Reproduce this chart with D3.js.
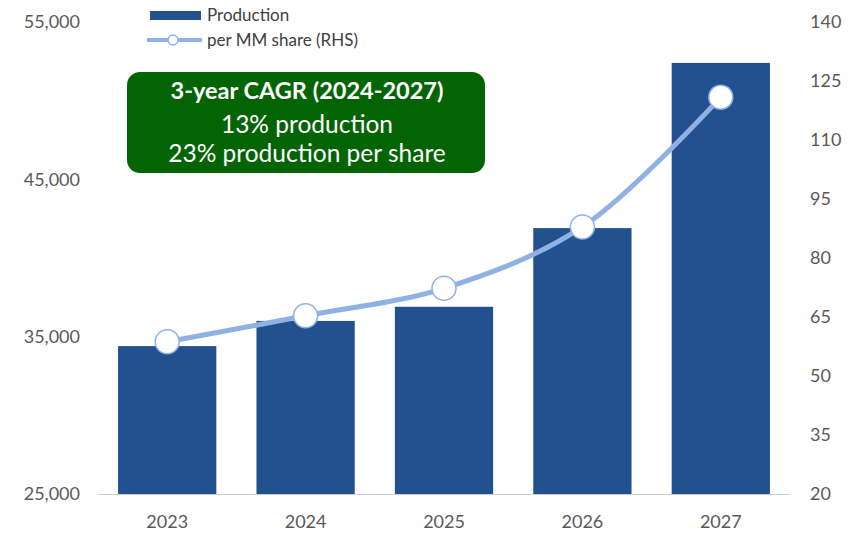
<!DOCTYPE html>
<html><head><meta charset="utf-8">
<script src="https://cdn.jsdelivr.net/npm/d3@7"></script>
<style>body{margin:0;background:#fff}svg{display:block}text{font-family:Lato,"Open Sans",sans-serif}</style>
</head><body><svg id="c" width="858" height="535"></svg>
<script>
const years = ["2023","2024","2025","2026","2027"];
const production = [34400, 36000, 36900, 41900, 52400];
const perShare = [58.7, 65.3, 72.3, 87.9, 120.9];
const leftTicks = [25000, 35000, 45000, 55000];
const rightTicks = [20, 35, 50, 65, 80, 95, 110, 125, 140];
const legendLabels = ["Production", "per MM share (RHS)"];
const boxLines = ["3-year CAGR (2024-2027)", "13% production", "23% production per share"];

const svg = d3.select("#c");
const m = {l:98, r:790, t:22, b:494};
const x = d3.scaleBand().domain(years).range([m.l, m.r]).paddingInner(0.29).paddingOuter(0.145);
const yL = d3.scaleLinear().domain([25000, 55000]).range([m.b, m.t]);
const yR = d3.scaleLinear().domain([20, 140]).range([m.b, m.t]);
const barColor = "#23518f", lineColor = "#8fb1e4", txt = "#595959";

svg.append("g").selectAll("rect").data(production).join("rect")
  .attr("x", (d,i)=>x(years[i])).attr("width", x.bandwidth())
  .attr("y", d=>yL(d)).attr("height", d=>m.b - yL(d)).attr("fill", barColor);

svg.append("line").attr("x1", m.l).attr("x2", m.r).attr("y1", m.b+0.5).attr("y2", m.b+0.5)
  .attr("stroke", "#d0d0d0").attr("stroke-width", 1.2);

const gl = svg.append("g").attr("transform", `translate(80,0)`)
  .call(d3.axisLeft(yL).tickValues(leftTicks).tickFormat(d3.format(",")).tickSize(0).tickPadding(0));
const gr = svg.append("g").attr("transform", `translate(810,0)`)
  .call(d3.axisRight(yR).tickValues(rightTicks).tickSize(0).tickPadding(0));
const gx = svg.append("g").attr("transform", `translate(0,${m.b})`)
  .call(d3.axisBottom(x).tickSize(0).tickPadding(21));
[gl, gr, gx].forEach(g => {
  g.select(".domain").remove();
  g.selectAll("text").attr("fill", txt).style("font-size", "18px").style("font-family", "Lato, 'Open Sans', sans-serif");
});

const pts = perShare.map((v,i)=>[x(years[i]) + x.bandwidth()/2, yR(v)]);
svg.append("path").attr("d", d3.line().curve(d3.curveCatmullRom.alpha(0.5))(pts))
  .attr("fill", "none").attr("stroke", lineColor).attr("stroke-width", 5);
svg.append("g").selectAll("circle").data(pts).join("circle")
  .attr("cx", d=>d[0]).attr("cy", d=>d[1]).attr("r", 12)
  .attr("fill", "#fff").attr("stroke", lineColor).attr("stroke-width", 1.5);

// legend
svg.append("rect").attr("x", 150).attr("y", 11).attr("width", 51).attr("height", 9).attr("fill", barColor);
svg.append("line").attr("x1", 147).attr("x2", 202).attr("y1", 40).attr("y2", 40).attr("stroke", lineColor).attr("stroke-width", 4);
svg.append("circle").attr("cx", 173).attr("cy", 40).attr("r", 5).attr("fill", "#fff").attr("stroke", lineColor).attr("stroke-width", 1.5);
svg.append("g").selectAll("text").data(legendLabels).join("text")
  .attr("x", 207).attr("y", (d,i)=>[21,46][i]).attr("fill", "#404040").style("font-size", "17px").text(d=>d);

// annotation box
svg.append("rect").attr("x", 127).attr("y", 72).attr("width", 358).attr("height", 101).attr("rx", 13)
  .attr("fill", "#046404");
svg.append("g").selectAll("text").data(boxLines).join("text")
  .attr("x", 307).attr("y", (d,i)=>[99,133,162][i]).attr("text-anchor", "middle").attr("fill", "#fff")
  .style("font-size", (d,i)=>i===0?"23.5px":"24.5px").style("font-weight", (d,i)=>i===0?"bold":"normal").text(d=>d);
</script></body></html>
